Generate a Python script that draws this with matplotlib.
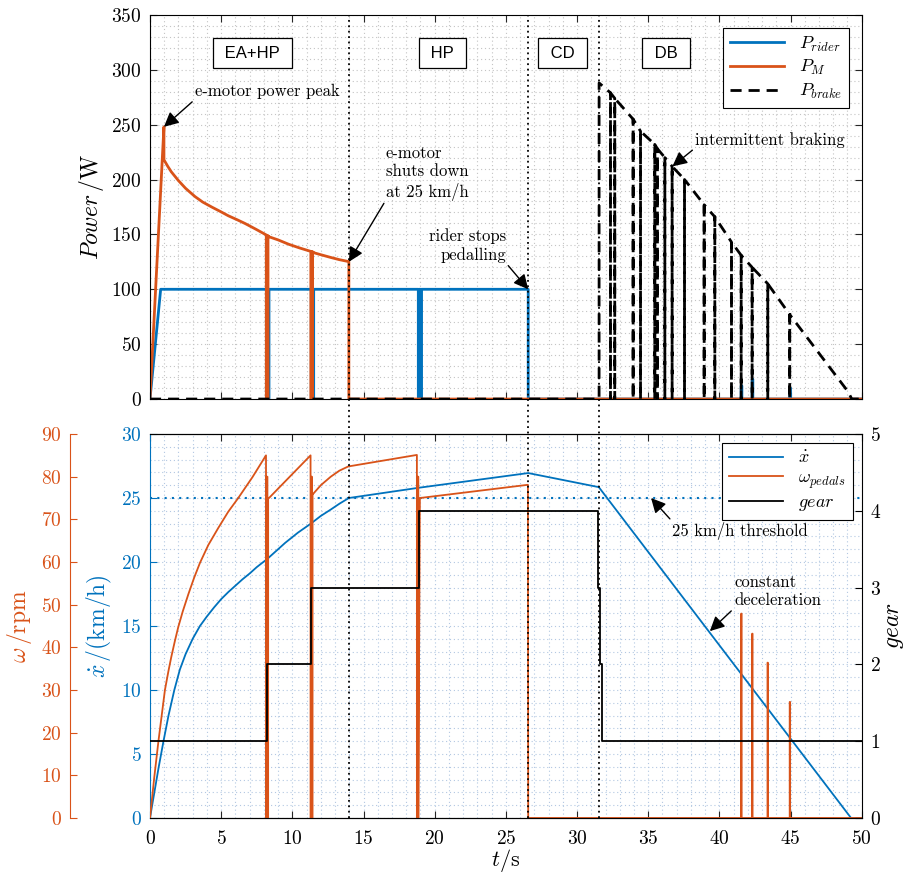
import matplotlib
matplotlib.use("Agg")
import matplotlib.pyplot as plt
from matplotlib.lines import Line2D
from matplotlib.ticker import MultipleLocator
from matplotlib.transforms import blended_transform_factory

# ===========================
# Data
# ===========================
# power of the rider, W
t_rider = [0, 0.75, 8.2, 8.2, 8.36, 8.36, 11.33, 11.33, 11.5, 11.5, 18.85, 18.85, 18.9, 18.9,
           19.02, 19.02, 19.07, 19.07, 26.57, 26.57, 41.53, 41.53, 41.58, 41.58, 42.3, 42.3,
           42.35, 42.35, 44.94, 44.94, 44.99, 44.99, 50]
p_rider = [0, 100, 100, 0, 0, 100, 100, 0, 0, 100, 100, 0, 0, 100,
           100, 0, 0, 100, 100, 0, 0, 12, 12, 0, 0, 18,
           18, 0, 0, 10, 10, 0, 0]

# e-motor power, W
t_motor = [0, 0.98, 0.98, 1.25, 1.5, 1.75, 2.0, 2.5, 3.16, 3.7, 4.33, 5.0, 5.5, 6.1, 6.67,
           7.4, 8.17,
           8.17, 8.21, 8.21, 8.25, 8.25, 8.29, 8.29, 8.33, 8.33,
           9.0, 9.75, 10.5, 11.3,
           11.3, 11.34, 11.34, 11.38, 11.38, 11.42, 11.42, 11.46, 11.46,
           12.0, 12.7, 13.3, 13.97, 13.97, 50]
p_motor = [0, 248, 218, 212, 207, 203, 199, 192, 184.5, 179.5, 175, 170.5, 167, 163.5, 160,
           155, 149.5,
           0, 0, 149, 149, 0, 0, 148.5, 148.5, 148,
           145, 141, 137.7, 134.5,
           0, 0, 134.3, 134.3, 0, 0, 134, 134, 133.5,
           131.5, 129, 127, 125.2, 0, 0]

# braking power, W: brake comes on at the start of DB and is released briefly
brake_on = 31.55
brake_peak = 288
brake_release_t = [32.35, 32.65, 33.94, 34.46, 35.46, 35.65, 36.17, 36.68, 37.55,
                   38.93, 39.68, 40.85, 41.53, 42.3, 43.4, 44.94]
brake_release_p = [279, 274, 255, 244, 232, 228, 220, 212, 200,
                   177, 166, 143, 131, 120, 105, 77]
brake_end_t = [49.04, 49.3]
brake_end_p = [6.7, 0]

# bike speed, km/h
t_speed = [0, 0.3, 0.6, 0.94, 1.3, 1.71, 2.1, 2.5, 3.0, 3.51, 4.0, 4.5, 5.0, 5.5, 6.0, 6.5,
           7.0, 7.5, 7.96, 8.2, 9.0, 9.5, 10.4, 11.3, 12.0, 12.7, 13.3, 13.97,
           18.87, 26.57, 31.53, 49.25, 50]
v_speed = [0, 1.95, 3.9, 5.95, 8.0, 10.0, 11.6, 12.8, 14.0, 15.0, 15.75, 16.45, 17.1, 17.65,
           18.15, 18.65, 19.1, 19.6, 20.0, 20.2, 21.0, 21.5, 22.3, 23.0, 23.6, 24.1, 24.55,
           25.0, 25.8, 26.95, 25.85, 0, 0]

# pedal cadence, rpm
t_pedal = [0, 0.3, 0.59, 1.05, 1.3, 1.5, 1.75, 1.99, 2.3, 2.7, 3.1, 3.51, 4.1, 4.8, 5.5,
           6.2, 7.2, 8.15,
           8.15, 8.2, 8.2, 8.25, 8.25, 8.3, 8.3, 8.36,
           11.28, 11.28, 11.33, 11.33, 11.38, 11.38, 11.42, 11.42, 11.47,
           12.0, 12.7, 13.3, 13.93, 18.75, 18.75, 18.8, 18.8, 18.85, 18.85, 18.96,
           26.55, 26.57, 41.53, 41.53, 41.56, 41.56, 42.3, 42.3, 42.33, 42.33,
           43.38, 43.38, 43.41, 43.41, 44.94, 44.94, 44.97, 44.97, 50]
w_pedal = [0, 9.5, 17.9, 30, 34.5, 37.8, 41.5, 44.8, 48.4, 52.5, 56.3, 59.8, 64, 68, 71.8,
           75, 79.9, 85,
           0, 0, 80, 80, 0, 0, 75, 75,
           85, 0, 0, 80, 80, 0, 0, 76, 76,
           78, 80, 81.4, 82.4, 85.1, 0, 0, 80, 80, 0, 75,
           78.1, 0, 0, 47.9, 47.9, 0, 0, 43.2, 43.2, 0,
           0, 36.4, 36.4, 0, 0, 27.2, 27.2, 0, 0]

# gear
t_gear = [0, 8.2, 8.2, 11.33, 11.33, 18.87, 18.87, 31.5, 31.5, 31.62, 31.62, 31.75, 31.75, 50]
gear = [1, 1, 2, 2, 3, 3, 4, 4, 3, 3, 2, 2, 1, 1]

phase_t = [13.97, 26.57, 31.55]
phase_names = ["EA+HP", "HP", "CD", "DB"]
phase_label_t = [7.2, 20.55, 28.98, 36.24]

threshold_kmh = 25

# ===========================
# Style
# ===========================
BLUE = "#0072BD"
ORANGE = "#D95319"
AXC = "#262626"

plt.rcParams.update({
    "font.family": "serif",
    "font.serif": ["cmr10"],
    "mathtext.fontset": "cm",
    "axes.formatter.use_mathtext": True,
    "axes.unicode_minus": False,
    "axes.linewidth": 0.8,
    "xtick.direction": "in",
    "ytick.direction": "in",
    "xtick.major.size": 5,
    "ytick.major.size": 5,
    "xtick.minor.size": 0,
    "ytick.minor.size": 0,
    "xtick.labelsize": 14,
    "ytick.labelsize": 14,
})

ARROW = dict(arrowstyle="-|>", color="k", lw=1.0, mutation_scale=22, shrinkA=0, shrinkB=0)

fig = plt.figure(figsize=(9.09, 8.77), dpi=100)
ax1 = fig.add_axes([0.165, 0.545, 0.783, 0.438])
ax2 = fig.add_axes([0.165, 0.0673, 0.783, 0.4378])

# ---------------- top panel ----------------
t_brake = [0, brake_on, brake_on]
p_brake = [0, 0, brake_peak]
for tr, pr in zip(brake_release_t, brake_release_p):
    t_brake += [tr, tr, tr]
    p_brake += [pr, 0, pr]
t_brake += brake_end_t + [50]
p_brake += brake_end_p + [0]

ax1.plot(t_rider, p_rider, color=BLUE, lw=2, label=r"$P_{rider}$")
ax1.plot(t_motor, p_motor, color=ORANGE, lw=2, label=r"$P_M$")
ax1.plot(t_brake, p_brake, color="k", lw=2, ls=(0, (4, 2.5)), label=r"$P_{brake}$")

ax1.set_xlim(0, 50)
ax1.set_ylim(0, 350)
ax1.xaxis.set_major_locator(MultipleLocator(5))
ax1.xaxis.set_minor_locator(MultipleLocator(1))
ax1.yaxis.set_major_locator(MultipleLocator(50))
ax1.yaxis.set_minor_locator(MultipleLocator(10))
ax1.tick_params(which="both", top=True, right=True, labelbottom=False, color=AXC)
ax1.tick_params(axis="y", pad=6)
ax1.grid(which="both", ls=(0, (1, 2.5)), color="#c4c4c4", lw=0.8)
ax1.set_axisbelow(True)
ax1.set_ylabel(r"$Power\,/\mathrm{W}$", fontsize=17)

for name, tx in zip(phase_names, phase_label_t):
    ax1.text(tx, 315, " " + name + " ", ha="center", va="center", fontsize=12,
             family="Liberation Sans",
             bbox=dict(boxstyle="square,pad=0.45", fc="white", ec="k", lw=0.9))

ax1.annotate("e-motor power peak", xy=(0.98, 248), xytext=(3.16, 280), fontsize=12,
             ha="left", va="center", arrowprops=dict(ARROW, relpos=(0, 0)))
ax1.annotate("e-motor\nshuts down\nat 25 km/h", xy=(13.97, 125), xytext=(16.55, 206),
             fontsize=12, ha="left", va="center", linespacing=1.25,
             arrowprops=dict(ARROW, relpos=(0, 0)))
ax1.annotate("rider stops\npedalling", xy=(26.57, 100), xytext=(25.0, 140), fontsize=12,
             ha="right", va="center", multialignment="right", linespacing=1.25,
             arrowprops=dict(ARROW, relpos=(1, 0)))
ax1.annotate("intermittent braking", xy=(36.7, 212), xytext=(38.3, 236), fontsize=12,
             ha="left", va="center", arrowprops=dict(ARROW, relpos=(0, 0)))

leg1 = ax1.legend(loc="upper right", fontsize=13, handlelength=3.0, fancybox=False,
                  edgecolor="k", framealpha=1, borderaxespad=0.7, labelspacing=0.25)
leg1.get_frame().set_linewidth(0.8)

# ---------------- bottom panel ----------------
ax_w = ax2.twinx()
ax_g = ax2.twinx()

l_v, = ax2.plot(t_speed, v_speed, color=BLUE, lw=1.3, label=r"$\dot{x}$")
ax2.axhline(threshold_kmh, color=BLUE, ls=(0, (1, 2.5)), lw=1.5)
l_w, = ax_w.plot(t_pedal, w_pedal, color=ORANGE, lw=1.3, label=r"$\omega_{pedals}$")
l_g, = ax_g.plot(t_gear, gear, color="k", lw=1.3, label=r"$gear$")

ax2.set_xlim(0, 50)
ax2.set_ylim(0, 30)
ax_w.set_ylim(0, 90)
ax_g.set_ylim(0, 5)
ax2.xaxis.set_major_locator(MultipleLocator(5))
ax2.xaxis.set_minor_locator(MultipleLocator(1))
ax2.yaxis.set_major_locator(MultipleLocator(5))
ax2.yaxis.set_minor_locator(MultipleLocator(1))
ax_w.yaxis.set_major_locator(MultipleLocator(10))
ax_g.yaxis.set_major_locator(MultipleLocator(1))
ax2.grid(which="both", ls=(0, (1, 2.5)), color="#b3c8e2", lw=0.8)
ax2.set_axisbelow(True)

ax2.tick_params(axis="x", which="both", top=True, color=AXC, pad=9)
ax2.tick_params(axis="y", colors=BLUE, right=False, pad=6)
ax2.spines["left"].set_color(BLUE)
ax2.spines["right"].set_visible(False)

ax_g.tick_params(axis="y", colors="k", pad=6)
ax_g.spines["left"].set_visible(False)

ax_w.spines["right"].set_visible(False)
ax_w.spines["top"].set_visible(False)
ax_w.spines["bottom"].set_visible(False)
ax_w.spines["left"].set_visible(True)
ax_w.spines["left"].set_position(("axes", -0.1124))
ax_w.spines["left"].set_color(ORANGE)
ax_w.yaxis.tick_left()
ax_w.yaxis.set_label_position("left")
ax_w.tick_params(axis="y", colors=ORANGE, pad=6)

ax2.set_xlabel(r"$t/\mathrm{s}$", fontsize=16, labelpad=-1)
ax2.set_ylabel(r"$\dot{x}\,/(\mathrm{km/h})$", color=BLUE, fontsize=17, labelpad=5)
ax_w.set_ylabel(r"$\omega\,/\mathrm{rpm}$", color=ORANGE, fontsize=17, labelpad=5)
ax_g.set_ylabel(r"$gear$", fontsize=17, labelpad=2)

ax2.annotate("25 km/h threshold", xy=(35.2, 25), xytext=(36.7, 22.45), fontsize=12,
             ha="left", va="center", arrowprops=dict(ARROW, relpos=(0, 1)))
ax2.annotate("constant\ndeceleration", xy=(39.33, 14.6), xytext=(41.03, 17.7), fontsize=12,
             ha="left", va="center", linespacing=1.25,
             arrowprops=dict(ARROW, relpos=(0, 0)))

leg2 = ax_g.legend([l_v, l_w, l_g], [l_v.get_label(), l_w.get_label(), l_g.get_label()],
                   loc="upper right", fontsize=13, handlelength=3.0, fancybox=False,
                   edgecolor="k", framealpha=1, borderaxespad=0.5, labelspacing=0.2)
leg2.get_frame().set_linewidth(0.8)

# phase boundaries across both panels
trans = blended_transform_factory(ax1.transData, fig.transFigure)
for tp in phase_t:
    fig.add_artist(Line2D([tp, tp], [0.0673, 0.983], transform=trans, color="k",
                          ls=(0, (1, 2)), lw=1.3))

fig.savefig("out.png", dpi=100)
